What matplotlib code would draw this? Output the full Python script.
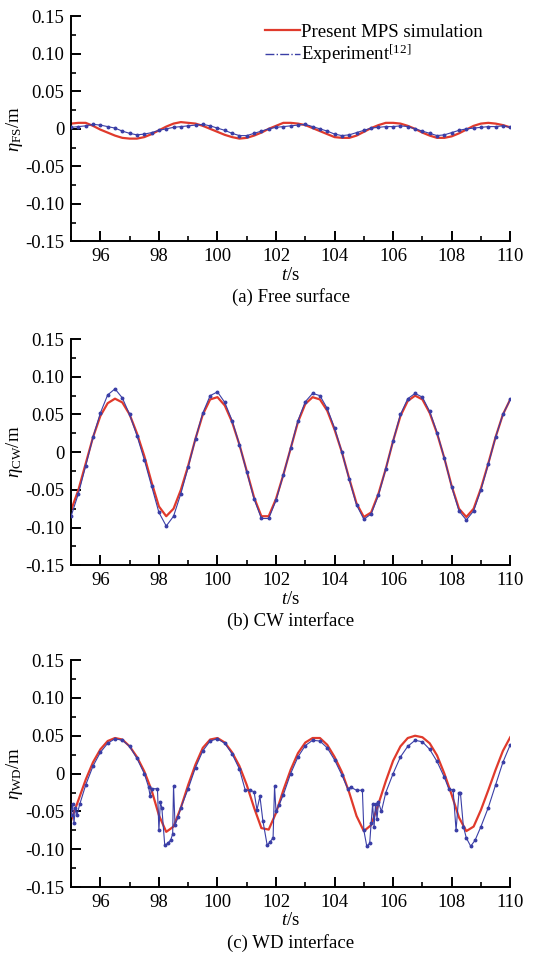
import numpy as np
import matplotlib.pyplot as plt
from matplotlib.lines import Line2D
from matplotlib.ticker import MultipleLocator

plt.rcParams['font.family'] = ['Liberation Serif', 'DejaVu Serif']
plt.rcParams['mathtext.fontset'] = 'custom'
plt.rcParams['mathtext.rm'] = 'Liberation Serif'
plt.rcParams['mathtext.it'] = 'Liberation Serif:italic'

# time axis for the simulation curves and the smooth experiment curves (s)
t_grid = np.arange(95.0, 110.01, 0.25)

# (a) free surface
fs_mps = [0.007, 0.008, 0.008, 0.004, -0.001, -0.005, -0.009, -0.012, -0.013, -0.013,
          -0.011, -0.007, -0.002, 0.003, 0.007, 0.009, 0.008, 0.007, 0.004, 0.000,
          -0.004, -0.008, -0.011, -0.013, -0.012, -0.009, -0.005, 0.000, 0.004, 0.008,
          0.008, 0.007, 0.005, 0.001, -0.003, -0.007, -0.011, -0.012, -0.012, -0.009,
          -0.004, 0.001, 0.005, 0.008, 0.008, 0.007, 0.004, 0.000, -0.005, -0.009,
          -0.012, -0.012, -0.010, -0.006, -0.001, 0.004, 0.007, 0.008, 0.007, 0.005,
          0.002]
fs_exp = [0.002, 0.003, 0.004, 0.006, 0.005, 0.003, 0.001, -0.003, -0.006, -0.008,
          -0.007, -0.005, -0.002, 0.000, 0.002, 0.003, 0.004, 0.005, 0.006, 0.004,
          0.001, -0.002, -0.006, -0.009, -0.009, -0.006, -0.003, 0.000, 0.002, 0.003,
          0.004, 0.005, 0.006, 0.003, 0.000, -0.003, -0.007, -0.009, -0.008, -0.005,
          -0.002, 0.001, 0.002, 0.003, 0.003, 0.004, 0.003, 0.000, -0.003, -0.006,
          -0.009, -0.008, -0.005, -0.002, 0.000, 0.001, 0.002, 0.003, 0.003, 0.004,
          0.002]

# (b) CW interface
cw_mps = [-0.077, -0.050, -0.015, 0.020, 0.048, 0.065, 0.071, 0.066, 0.050, 0.025,
          -0.005, -0.040, -0.072, -0.085, -0.075, -0.050, -0.018, 0.018, 0.050, 0.070,
          0.073, 0.062, 0.040, 0.010, -0.025, -0.060, -0.085, -0.085, -0.062, -0.030,
          0.005, 0.040, 0.064, 0.073, 0.070, 0.055, 0.030, 0.000, -0.035, -0.068,
          -0.086, -0.080, -0.055, -0.022, 0.015, 0.048, 0.068, 0.075, 0.070, 0.052,
          0.025, -0.008, -0.045, -0.075, -0.086, -0.075, -0.048, -0.015, 0.020, 0.050,
          0.070]
cw_exp = [-0.085, -0.055, -0.018, 0.020, 0.052, 0.076, 0.084, 0.072, 0.050, 0.022,
          -0.010, -0.045, -0.080, -0.098, -0.085, -0.055, -0.020, 0.018, 0.052, 0.075,
          0.080, 0.066, 0.042, 0.010, -0.026, -0.062, -0.088, -0.088, -0.064, -0.030,
          0.005, 0.042, 0.067, 0.078, 0.075, 0.058, 0.032, 0.000, -0.036, -0.070,
          -0.089, -0.082, -0.057, -0.022, 0.015, 0.050, 0.071, 0.078, 0.073, 0.054,
          0.026, -0.008, -0.046, -0.078, -0.090, -0.078, -0.050, -0.016, 0.020, 0.050,
          0.070]

# (c) WD interface
wd_mps = [-0.062, -0.035, -0.008, 0.015, 0.032, 0.043, 0.047, 0.045, 0.036, 0.022,
          0.003, -0.022, -0.055, -0.077, -0.070, -0.045, -0.015, 0.012, 0.034, 0.045,
          0.047, 0.041, 0.028, 0.010, -0.015, -0.045, -0.072, -0.074, -0.052, -0.022,
          0.005, 0.027, 0.041, 0.047, 0.047, 0.038, 0.022, 0.002, -0.025, -0.056,
          -0.076, -0.068, -0.040, -0.010, 0.017, 0.036, 0.047, 0.050, 0.048, 0.040,
          0.024, 0.000, -0.028, -0.058, -0.076, -0.070, -0.048, -0.022, 0.005, 0.030,
          0.048]
wd_exp_t = [95.0, 95.05, 95.1, 95.15, 95.2, 95.3, 95.5, 95.75, 96.0, 96.25, 96.5, 96.75,
            97.0, 97.25, 97.5, 97.65, 97.7, 97.75, 97.95, 98.0, 98.05, 98.1, 98.2, 98.3,
            98.4, 98.47, 98.5, 98.55, 98.65, 98.75, 99.0, 99.25, 99.5, 99.75, 100.0,
            100.25, 100.5, 100.75, 100.95, 101.1, 101.25, 101.35, 101.45, 101.55, 101.7,
            101.8, 101.9, 101.95, 102.0, 102.1, 102.25, 102.5, 102.75, 103.0, 103.25,
            103.5, 103.75, 104.0, 104.25, 104.45, 104.55, 104.75, 104.95, 105.0, 105.1,
            105.2, 105.25, 105.3, 105.35, 105.4, 105.45, 105.5, 105.6, 105.75, 106.0,
            106.25, 106.5, 106.75, 107.0, 107.25, 107.5, 107.75, 107.9, 108.05, 108.15,
            108.25, 108.3, 108.4, 108.5, 108.65, 108.8, 109.0, 109.25, 109.5, 109.75, 110.0]
wd_exp = [-0.055, -0.040, -0.065, -0.045, -0.055, -0.040, -0.015, 0.010, 0.028, 0.040,
          0.046, 0.044, 0.036, 0.020, 0.000, -0.018, -0.030, -0.020, -0.020, -0.075,
          -0.038, -0.045, -0.095, -0.092, -0.088, -0.080, -0.016, -0.068, -0.058, -0.045,
          -0.020, 0.008, 0.030, 0.043, 0.046, 0.040, 0.026, 0.006, -0.022, -0.022,
          -0.024, -0.048, -0.030, -0.062, -0.095, -0.090, -0.085, -0.017, -0.050, -0.042,
          -0.028, 0.000, 0.022, 0.037, 0.044, 0.043, 0.034, 0.018, -0.002, -0.020,
          -0.018, -0.022, -0.022, -0.075, -0.096, -0.092, -0.065, -0.040, -0.070, -0.040,
          -0.060, -0.038, -0.050, -0.025, 0.000, 0.022, 0.036, 0.044, 0.042, 0.032,
          0.016, -0.005, -0.020, -0.022, -0.075, -0.025, -0.026, -0.070, -0.085, -0.096,
          -0.088, -0.070, -0.045, -0.015, 0.015, 0.038]

y_ticks = [0.15, 0.10, 0.05, 0, -0.05, -0.10, -0.15]
y_tick_labels = ['0.15', '0.10', '0.05', '0', '-0.05', '-0.10', '-0.15']
x_ticks = [96, 98, 100, 102, 104, 106, 108, 110]

panels = [
    (t_grid, fs_mps, t_grid, fs_exp, r'$\eta_{\rm FS}$/m', '(a) Free surface'),
    (t_grid, cw_mps, t_grid, cw_exp, r'$\eta_{\rm CW}$/m', '(b) CW interface'),
    (t_grid, wd_mps, wd_exp_t, wd_exp, r'$\eta_{\rm WD}$/m', '(c) WD interface'),
]

red = '#e03a2c'
blue = '#3a3ea6'

fig = plt.figure(figsize=(5.51, 9.58), dpi=100)
# axes boxes in figure fractions (left, bottom, width, height)
boxes = [(0.129, 0.748, 0.797, 0.235),
         (0.129, 0.410, 0.797, 0.236),
         (0.129, 0.074, 0.797, 0.237)]

for box, (tm, ym, te, ye, ylab, cap) in zip(boxes, panels):
    ax = fig.add_axes(box)
    ax.plot(te, ye, '-', color=blue, lw=0.8, marker='o', ms=1.8, zorder=3)
    ax.plot(tm, ym, '-', color=red, lw=1.6, zorder=2)

    ax.set_xlim(95, 110)
    ax.set_ylim(-0.15, 0.15)
    ax.set_xticks(x_ticks)
    ax.set_xticklabels([str(v) for v in x_ticks])
    ax.set_yticks(y_ticks)
    ax.set_yticklabels(y_tick_labels)
    ax.xaxis.set_minor_locator(MultipleLocator(1))
    ax.yaxis.set_minor_locator(MultipleLocator(0.025))

    for s in ['top', 'right']:
        ax.spines[s].set_visible(False)
    for s in ['left', 'bottom']:
        ax.spines[s].set_linewidth(1.4)
    ax.tick_params(which='major', direction='in', length=7, width=1.4, labelsize=13.5, pad=5)
    ax.tick_params(which='minor', direction='in', length=3.5, width=1.2)

    ax.set_xlabel(r'$\it{t}$/s', fontsize=13.5, labelpad=1)
    ax.set_ylabel(ylab, fontsize=13.5, labelpad=0)
    ax.annotate(cap, xy=(0.5, 0), xycoords='axes fraction', xytext=(0, -40),
                textcoords='offset points', ha='center', va='center', fontsize=13.5)

    if cap.startswith('(a)'):
        handles = [Line2D([], [], color=red, lw=1.6),
                   Line2D([], [], color=blue, lw=1.0, ls='-.')]
        ax.legend(handles, ['Present MPS simulation', r'Experiment$^{[12]}$'],
                  loc='upper right', frameon=False, fontsize=13.5,
                  handlelength=1.9, handletextpad=0.05, labelspacing=0.1,
                  borderaxespad=0.0, bbox_to_anchor=(0.955, 1.0))

fig.savefig('out.png', dpi=100)
